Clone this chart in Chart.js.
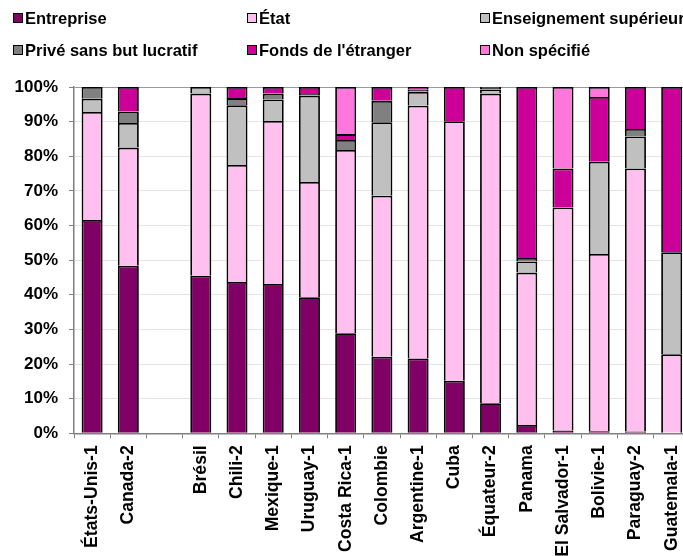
<!DOCTYPE html>
<html>
<head>
<meta charset="utf-8">
<script src="https://cdn.jsdelivr.net/npm/chart.js@4"></script>
<style>
  html, body { margin: 0; padding: 0; background: #fff; overflow: hidden; }
  #wrap { position: relative; width: 683px; height: 556px; overflow: hidden; }
  #box { position: absolute; left: 0; top: 0; width: 700px; height: 556px; }
  .leg { position: absolute; font: bold 16.5px "Liberation Sans", Arial, sans-serif; color: #000; white-space: nowrap; line-height: 20px; }
  .leg span { display: inline-block; width: 8px; height: 8px; border: 1px solid #000; margin-right: 2px; vertical-align: 1px; }
</style>
</head>
<body>
<div id="wrap">
  <div id="box"><canvas id="myChart"></canvas></div>
  <div id="legend"></div>
</div>
<script>
var labels = ['États-Unis-1', 'Canada-2', '', 'Brésil', 'Chili-2', 'Mexique-1', 'Uruguay-1', 'Costa Rica-1', 'Colombie', 'Argentine-1', 'Cuba', 'Équateur-2', 'Panama', 'El Salvador-1', 'Bolivie-1', 'Paraguay-2', 'Guatemala-1']

var entreprise   = [61.6, 48.4, null, 45.5, 43.7, 43.1, 39.3, 28.9, 22.1, 21.6, 15.2, 8.7, 2.4, 0.8, 0.6, 0.5, null]
var etat         = [31.2, 34.1, null, 52.6, 33.8, 47.1, 33.3, 52.9, 46.5, 73.0, 74.9, 89.4, 44.0, 64.4, 51.2, 76.0, 22.8]
var enseignement = [3.8, 7.1, null, 1.9, 17.2, 6.2, 24.9, null, 21.2, 4.0, null, 1.2, 3.2, null, 26.6, 9.2, 29.5]
var prive        = [3.4, 3.3, null, null, 2.1, 1.7, 0.5, 2.9, 6.2, 0.6, null, 0.4, 1.0, null, null, 2.2, null]
var fonds        = [null, 7.1, null, null, 3.2, 1.9, 2.0, 1.7, 4.0, 0.8, 9.9, 0.3, 49.4, 11.3, 18.7, 12.1, 47.7]
var nonSpecifie  = [null, null, null, null, null, null, null, 13.6, null, null, null, null, null, 23.5, 2.9, null, null]

var yTicks = [0, 10, 20, 30, 40, 50, 60, 70, 80, 90, 100]

var series = [
    { label: 'Entreprise', data: entreprise, color: '#800066' },
    { label: 'État', data: etat, color: '#FFC0F0' },
    { label: 'Enseignement supérieur', data: enseignement, color: '#C0C0C0' },
    { label: 'Privé sans but lucratif', data: prive, color: '#808080' },
    { label: "Fonds de l'étranger", data: fonds, color: '#CC0099' },
    { label: 'Non spécifié', data: nonSpecifie, color: '#FF77DD' }
]

// legend laid out like the original: 3 columns, 2 rows
var legendPos = [[13, 8], [247, 8], [480, 8], [13, 40], [247, 40], [480, 40]]
var legendBox = document.querySelector('#legend')
series.forEach(function (s, k) {
    var d = document.createElement('div')
    d.className = 'leg'
    d.style.left = legendPos[k][0] + 'px'
    d.style.top = legendPos[k][1] + 'px'
    d.innerHTML = '<span style="background:' + s.color + '"></span>' + s.label
    legendBox.appendChild(d)
})

var yFont = { family: '"Liberation Sans", Arial, sans-serif', size: 17, weight: 'bold' }
var xFont = { family: '"Liberation Sans", Arial, sans-serif', size: 17.6, weight: 'bold' }

var chartField = document.querySelector('#myChart').getContext('2d')
var myChart = new Chart(chartField, {
    type: 'bar',
    data: {
        labels: labels,
        datasets: series.map(function (s) {
            return {
                label: s.label,
                data: s.data,
                backgroundColor: s.color,
                borderColor: '#000',
                borderWidth: 1.8,
                categoryPercentage: 1,
                barPercentage: 0.58
            }
        })
    },
    options: {
        responsive: true,
        maintainAspectRatio: false,
        animation: false,
        layout: { padding: { top: 87, right: 7, left: 0, bottom: 0 } },
        plugins: { legend: { display: false }, tooltip: { enabled: false } },
        scales: {
            x: {
                stacked: true,
                afterFit: function (scale) { scale.height = 122.7 },
                border: { color: '#808080', width: 1.5 },
                grid: { drawOnChartArea: false, drawTicks: true, tickLength: 5, color: '#808080', offset: true },
                ticks: { color: '#000', font: xFont, minRotation: 90, maxRotation: 90, padding: 7, autoSkip: false }
            },
            y: {
                stacked: true,
                min: 0,
                max: 100,
                afterFit: function (scale) { scale.width = 74 },
                afterBuildTicks: function (scale) {
                    scale.ticks = yTicks.map(function (v) { return { value: v } })
                },
                border: { color: '#808080', width: 1.5 },
                grid: {
                    color: function (ctx) { return ctx.tick && ctx.tick.value === 100 ? '#999' : '#e4e4e4' },
                    tickColor: '#808080',
                    tickLength: 5
                },
                ticks: {
                    color: '#000',
                    font: yFont,
                    padding: 11,
                    callback: function (v) { return v + '%' }
                }
            }
        }
    }
})
</script>
</body>
</html>
